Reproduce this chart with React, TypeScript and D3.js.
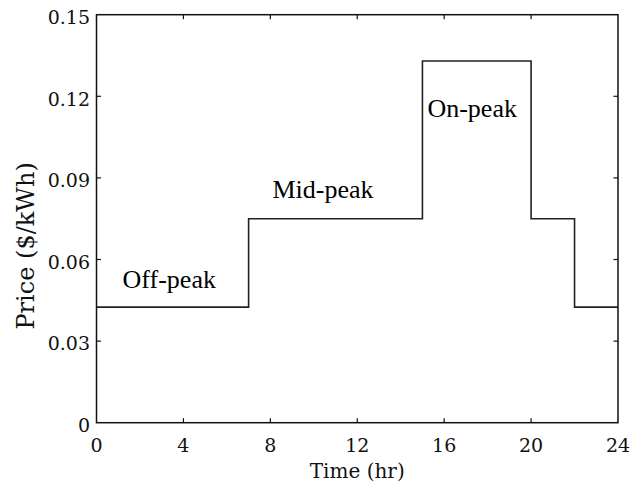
import React, { useEffect, useRef } from 'react'
import * as d3 from 'd3'

// tariff periods (hour where the price starts) and prices in $/kWh
const hours = [0, 7, 15, 20, 22, 24]
const prices = [0.0425, 0.075, 0.133, 0.075, 0.0425, 0.0425]

const xTicks = [0, 4, 8, 12, 16, 20, 24]
const yTicks = [0, 0.03, 0.06, 0.09, 0.12, 0.15]
const yTickLabels = ['0', '0.03', '0.06', '0.09', '0.12', '0.15']

const periodNames = ['Off-peak', 'Mid-peak', 'On-peak']
const periodHour = [1.2, 8.1, 15.23]
const periodPrice = [0.0496, 0.0826, 0.1125]

const W = 633
const H = 486

export default function App() {
  const ref = useRef<SVGSVGElement>(null)

  useEffect(() => {
    const svg = d3.select(ref.current)
    svg.selectAll('*').remove()

    const margin = { top: 14.7, right: 15, bottom: 63.3, left: 96.5 }
    const x = d3.scaleLinear().domain([0, 24]).range([margin.left, W - margin.right])
    const y = d3.scaleLinear().domain([0, 0.15]).range([H - margin.bottom, margin.top])
    const [x0, x1] = x.range()
    const [y0, y1] = y.range()
    const tickFont = 'DejaVu Serif'

    // step line
    const pts: [number, number][] = hours.map((h, i) => [h, prices[i]])
    const line = d3.line<[number, number]>()
      .x(d => x(d[0]))
      .y(d => y(d[1]))
      .curve(d3.curveStepAfter)
    svg.append('path')
      .attr('d', line(pts))
      .attr('fill', 'none')
      .attr('stroke', '#222')
      .attr('stroke-width', 1.6)

    // frame
    svg.append('rect')
      .attr('x', x0).attr('y', y1)
      .attr('width', x1 - x0).attr('height', y0 - y1)
      .attr('fill', 'none').attr('stroke', '#111').attr('stroke-width', 1.5)

    // inward ticks on all sides
    const tl = 4.5
    xTicks.slice(1, -1).forEach(t => {
      svg.append('line').attr('x1', x(t)).attr('x2', x(t)).attr('y1', y0).attr('y2', y0 - tl)
        .attr('stroke', '#111').attr('stroke-width', 1.2)
      svg.append('line').attr('x1', x(t)).attr('x2', x(t)).attr('y1', y1).attr('y2', y1 + tl)
        .attr('stroke', '#111').attr('stroke-width', 1.2)
    })
    yTicks.slice(1, -1).forEach(t => {
      svg.append('line').attr('x1', x0).attr('x2', x0 + tl).attr('y1', y(t)).attr('y2', y(t))
        .attr('stroke', '#111').attr('stroke-width', 1.2)
      svg.append('line').attr('x1', x1).attr('x2', x1 - tl).attr('y1', y(t)).attr('y2', y(t))
        .attr('stroke', '#111').attr('stroke-width', 1.2)
    })

    // tick labels
    svg.selectAll('text.xt').data(xTicks).enter().append('text')
      .attr('x', d => x(d)).attr('y', y0 + 29)
      .attr('text-anchor', 'middle')
      .style('font-family', tickFont).style('font-size', '19px').attr('fill', '#111')
      .text(d => d)
    svg.selectAll('text.yt').data(yTicks).enter().append('text')
      .attr('x', x0 - 6.5).attr('y', d => y(d) + 9.3)
      .attr('text-anchor', 'end')
      .style('font-family', tickFont).style('font-size', '19px').attr('fill', '#111')
      .text((d, i) => yTickLabels[i])

    // axis titles
    svg.append('text')
      .attr('x', (x0 + x1) / 2).attr('y', 478)
      .attr('text-anchor', 'middle')
      .style('font-family', tickFont).style('font-size', '20px').attr('fill', '#111')
      .text('Time (hr)')
    svg.append('text')
      .attr('transform', `translate(34,${y(0.065)}) rotate(-90)`)
      .attr('text-anchor', 'middle')
      .style('font-family', tickFont).style('font-size', '24px').attr('fill', '#111')
      .text('Price ($/kWh)')

    // period labels
    periodNames.forEach((name, i) => {
      svg.append('text')
        .attr('x', x(periodHour[i])).attr('y', y(periodPrice[i]))
        .style('font-family', 'Liberation Serif').style('font-size', '26px').attr('fill', '#000')
        .text(name)
    })
  }, [])

  return (
    <svg ref={ref} width={W} height={H}
      style={{ position: 'absolute', left: 0, top: 0, background: '#fff' }} />
  )
}
